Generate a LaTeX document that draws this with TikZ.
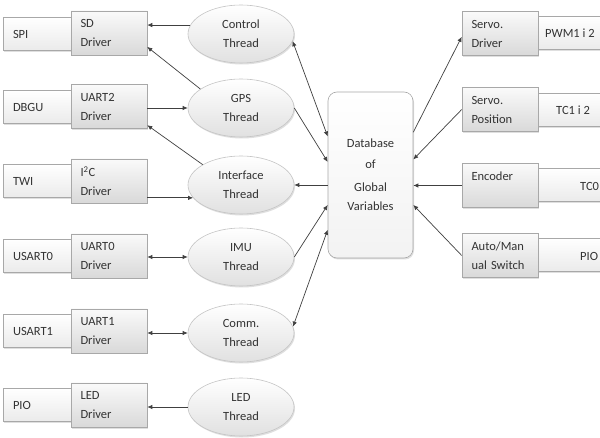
\documentclass[tikz,border=0pt]{standalone}
\usepackage{fontspec}
\setmainfont{Carlito}
\usetikzlibrary{arrows.meta,shapes.geometric,shadows}
\definecolor{txt}{HTML}{333333}
\definecolor{boxline}{HTML}{A8A8A8}
\definecolor{ellline}{HTML}{C4C4C4}
\definecolor{arrcol}{HTML}{404040}
\begin{document}
\begin{tikzpicture}[x=1pt,y=-1pt,
  font=\fontsize{12.5}{19}\selectfont, text=txt,
  base/.style={draw=boxline, line width=0.6pt,
    drop shadow={shadow xshift=1pt, shadow yshift=-1.5pt, opacity=0.25, fill=gray}},
  outerbox/.style={base, rectangle, top color=white, bottom color=gray!16,
    minimum height=33pt, inner xsep=10pt, align=left},
  outerL/.style={outerbox, text width=50pt, minimum width=70pt},
  outerR/.style={outerbox, minimum width=106pt},
  drvbox/.style={base, rectangle, top color=gray!4, bottom color=gray!30,
    minimum height=44pt, minimum width=76pt, text width=57pt, inner xsep=9.5pt, align=left},
  thread/.style={base, draw=ellline, ellipse, top color=white, bottom color=gray!24,
    minimum width=106pt, minimum height=58pt, inner sep=0pt, align=center},
  dbbox/.style={base, rectangle, rounded corners=9pt, top color=white, bottom color=gray!10,
    minimum width=85pt, minimum height=166pt, align=center},
  lbl/.style={inner sep=0pt, anchor=west},
  arr/.style={draw=arrcol, line width=0.7pt, -{Latex[length=5pt,width=4.5pt]}},
  darr/.style={draw=arrcol, line width=0.7pt, {Latex[length=5pt,width=4.5pt]}-{Latex[length=5pt,width=4.5pt]}}
]
\clip (0,0) rectangle (600,438);
\fill[white] (0,0) rectangle (600,438);

% left outer boxes
\node[outerL] (spi) at (38,34) {SPI};
\node[outerL] (dbgu) at (38,107) {DBGU};
\node[outerL] (twi) at (38,181) {TWI};
\node[outerL] (usart0) at (38,256) {USART0};
\node[outerL] (usart1) at (38,331) {USART1};
\node[outerL] (pio) at (38,405) {PIO};

% left drivers
\node[drvbox] (sd) at (109,33) {SD\\Driver};
\node[drvbox] (u2) at (109,106.5) {UART2\\Driver};
\node[drvbox] (i2c) at (109,181) {I\textsuperscript{2}C\\Driver};
\node[drvbox] (u0) at (109,256) {UART0\\Driver};
\node[drvbox] (u1) at (109,331) {UART1\\Driver};
\node[drvbox] (led) at (109,405) {LED\\Driver};

% threads
\node[thread] (ctrl) at (241,34) {Control\\Thread};
\node[thread] (gps) at (241,108) {GPS\\Thread};
\node[thread] (intf) at (241,185) {Interface\\Thread};
\node[thread] (imu) at (241,257) {IMU\\Thread};
\node[thread] (comm) at (241,333) {Comm.\\Thread};
\node[thread] (ledt) at (241,407) {LED\\Thread};

% database
\node[dbbox] (db) at (370.5,175) {Database\\[2pt]of\\[4pt]Global\\Variables};

% right outer boxes
\node[outerR] (pwm) at (590,33) {};
\node[outerR] (tc12) at (590,110) {};
\node[outerR] (tc0) at (590,185) {};
\node[outerR] (rpio) at (590,255) {};
\node[lbl] (pwmt) at (545,33) {PWM1 i 2};
\node[lbl] (tc12t) at (556,110) {TC1 i 2};
\node[lbl] (tc0t) at (580,186) {TC0};
\node[lbl] (rpiot) at (580,256) {PIO};

% right drivers
\node[drvbox] (sdrv) at (500,33.5) {Servo.\\Driver};
\node[drvbox] (spos) at (500,109.5) {Servo.\\Position};
\node[drvbox] (enc) at (500,185.5) {Encoder\\\mbox{}};
\node[drvbox] (am) at (500,255.5) {Auto/Man\\ual Switch};

% left connectors
\draw[arr] (ctrl.170) -- (sd.east |- ctrl.170);
\draw[arr] (gps.155) -- (sd.-20);
\draw[arr] (u2.east |- gps.west) -- (gps.west);
\draw[arr] (intf.152) -- (u2.-26);
\draw[arr] (i2c.east |- intf.195) -- (intf.195);
\draw[darr] (u0.east |- imu.west) -- (imu.west);
\draw[darr] (u1.east |- comm.west) -- (comm.west);
\draw[arr] (ledt.west) -- (led.east |- ledt.west);

% center connectors
\draw[darr] (ctrl.-8) -- (db.138);
\draw[arr] (gps.east) -- (db.163);
\draw[arr] (db.west |- intf.east) -- (intf.east);
\draw[arr] (imu.east) -- (db.215);
\draw[darr] (comm.7) -- (db.232);

% right connectors
\draw[arr] (db.45) -- (sdrv.185);
\draw[arr] (spos.west) -- (db.20);
\draw[arr] (enc.west) -- (db.east |- enc.west);
\draw[arr] (am.west) -- (db.-35);
\end{tikzpicture}
\end{document}
